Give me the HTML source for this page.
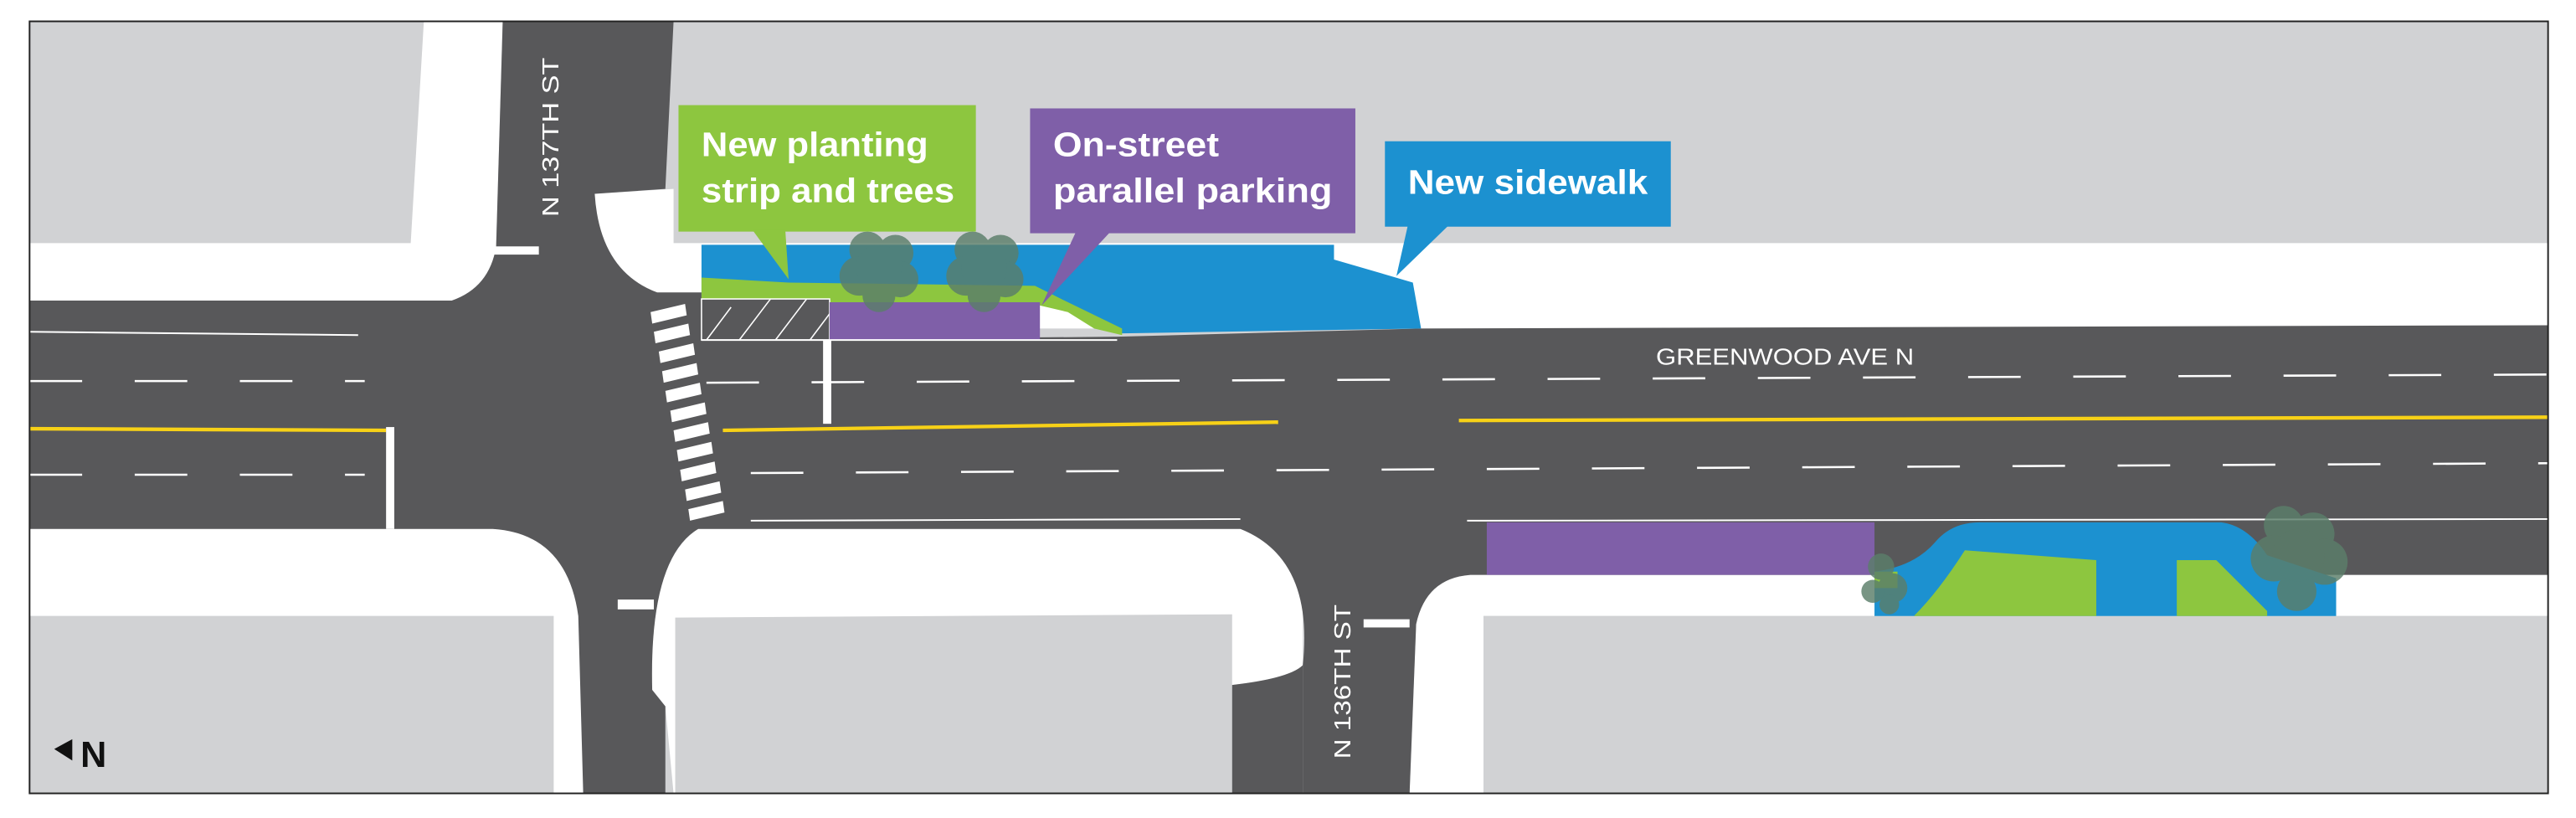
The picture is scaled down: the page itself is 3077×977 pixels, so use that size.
<!DOCTYPE html>
<html><head><meta charset="utf-8"><style>
html,body{margin:0;padding:0;background:#fff;}
svg{display:block;}
.lbl{font-family:"Liberation Sans Narrow","Liberation Sans",sans-serif;font-weight:bold;fill:#fff;font-size:21px;}
.st{font-family:"Liberation Sans Narrow","Liberation Sans",sans-serif;fill:#fff;font-size:14px;}
</style></head><body>
<svg width="3077" height="977" viewBox="0 0 1568 498" preserveAspectRatio="none" xmlns="http://www.w3.org/2000/svg">
<rect x="0" y="0" width="1568" height="498" fill="#fff"/>
<rect x="18" y="13" width="1533" height="470" fill="#d1d2d4"/>
<!-- top-left white sidewalk -->
<path d="M18 148 L250 148 L258 13 L306 13 L302 150 Q298 175 275 183 L18 183 Z" fill="#fff"/>
<!-- top right white sidewalk -->
<rect x="400" y="148" width="1151" height="52" fill="#fff"/>
<!-- white corner near N137 top -->
<path d="M360 118 L410 115 L410 150 L427 150 L427 178 L400 178 Q372 170 362 140 Z" fill="#fff"/>
<!-- bottom white areas -->
<path d="M18 322 L300 322 Q345 325 352 375 L355 483 L337 483 L337 375 L18 375 Z" fill="#fff"/>
<path d="M18 322 L300 322 Q350 322 355 380 L355 483 L337 483 L337 375 L18 375 Z" fill="#fff"/>
<path d="M425 322 L755 322 Q783 330 793 360 L793 405 Q785 413 750 417 L750 483 L410 483 L405 430 L397 420 Q395 340 425 322 Z" fill="#fff"/>
<path d="M858 483 L862 380 Q868 352 895 350 L1551 350 L1551 375 L903 375 L903 483 Z" fill="#fff"/>
<!-- gray blocks bottom -->
<rect x="18" y="375" width="319" height="108" fill="#d1d2d4"/>
<path d="M411 376 L750 374 L750 483 L411 483 Z" fill="#d1d2d4"/>
<rect x="903" y="375" width="648" height="108" fill="#d1d2d4"/>
<!-- roads -->
<path d="M18 183 L275 183 Q298 175 302 150 L306 13 L410 13 L405 115 L362 118 Q365 165 400 178 L427 178 L427 207 L680 205 L865 200 L1551 198 L1551 350 L895 350 Q868 352 862 380 L858 483 L793 483 L793 405 Q800 340 755 322 L425 322 Q395 340 397 420 L405 430 L405 483 L355 483 L352 375 Q345 325 300 322 L18 322 Z" fill="#58585a"/>
<path d="M750 417 Q785 413 793 405 L793 483 L750 483 Z" fill="#58585a"/>
<!-- blue new sidewalk -->
<path d="M427 149 L812 149 L812 158 L860 172 L865 200 L680 203 L660 190 L633 184 L427 180 Z" fill="#1c91d0"/>
<!-- green strip -->
<path d="M427 169 L480 172 L630 174 L648 183 L683 200 L683 204 L666 200 L650 190 L633 186 L505 185 L427 182 Z" fill="#8dc63f"/>
<!-- hatched -->
<rect x="427" y="182" width="78" height="25" fill="#58585a" stroke="#fff" stroke-width="0.8"/>
<g stroke="#fff" stroke-width="0.8">
<line x1="430" y1="207" x2="445" y2="187"/><line x1="450" y1="207" x2="469" y2="182"/><line x1="472" y1="207" x2="491" y2="182"/><line x1="493" y1="207" x2="505" y2="191"/>
</g>
<rect x="505" y="184" width="128" height="23" fill="#7f5fa8"/>
<!-- lines -->
<g stroke="#fff" stroke-width="1" fill="none">
<line x1="18" y1="202" x2="218" y2="204"/>
<line x1="427" y1="207" x2="680" y2="207"/>
<line x1="457" y1="317" x2="755" y2="316"/>
<line x1="893" y1="317" x2="1551" y2="316"/>
</g>
<g stroke="#fff" stroke-width="1.3" fill="none" stroke-dasharray="32,32">
<line x1="18" y1="232" x2="222" y2="232"/>
<line x1="430" y1="233" x2="1551" y2="228" stroke-dashoffset="0"/>
<line x1="18" y1="289" x2="222" y2="289"/>
<line x1="457" y1="288" x2="1551" y2="282"/>
</g>
<g stroke="#f7d117" stroke-width="2.2">
<line x1="18" y1="261" x2="235" y2="262"/>
<line x1="440" y1="262" x2="778" y2="257"/>
<line x1="888" y1="256" x2="1551" y2="254"/>
</g>
<rect x="235" y="260" width="5" height="62" fill="#fff"/>
<rect x="501" y="207" width="5" height="51" fill="#fff"/>
<!-- crosswalk -->
<g fill="#fff">
<polygon points="396,190 417,185 418,192 397,197"/>
<polygon points="398,202 419,197 420,204 399,209"/>
<polygon points="401,214 422,209 423,216 402,221"/>
<polygon points="403,226 424,221 425,228 404,233"/>
<polygon points="405,238 426,233 427,240 406,245"/>
<polygon points="408,250 429,245 430,252 409,257"/>
<polygon points="410,262 431,257 432,264 411,269"/>
<polygon points="412,274 433,269 434,276 413,281"/>
<polygon points="414,286 435,281 436,288 415,293"/>
<polygon points="417,298 438,293 439,300 418,305"/>
<polygon points="419,310 440,305 441,312 420,317"/>
</g>
<!-- bottom right -->
<rect x="905" y="318" width="236" height="32" fill="#7f5fa8"/>
<path d="M1141 375 L1141 348 Q1165 345 1178 330 Q1188 318 1205 318 L1352 318 Q1368 320 1380 338 L1422 352 L1422 375 Z" fill="#1c91d0"/>
<path d="M1165 375 Q1180 360 1196 335 L1276 341 L1276 375 Z" fill="#8dc63f"/>
<path d="M1325 341 L1349 341 L1380 372 L1380 375 L1325 375 Z" fill="#8dc63f"/>
<rect x="1141" y="348" width="14" height="10" fill="#8dc63f"/>
<rect x="830" y="377" width="28" height="5" fill="#fff"/>
<rect x="298" y="150" width="30" height="5" fill="#fff"/>
<rect x="376" y="365" width="22" height="6" fill="#fff"/>
<!-- trees -->
<g fill="#5b7e6a" opacity="0.82">
<circle cx="528" cy="152" r="11"/><circle cx="545" cy="154" r="11"/><circle cx="523" cy="168" r="12"/><circle cx="548" cy="170" r="11"/><circle cx="535" cy="180" r="10"/><circle cx="535" cy="163" r="14"/>
<circle cx="592" cy="152" r="11"/><circle cx="609" cy="154" r="11"/><circle cx="588" cy="168" r="12"/><circle cx="612" cy="170" r="11"/><circle cx="599" cy="180" r="10"/><circle cx="599" cy="163" r="14"/>
<circle cx="1145" cy="345" r="8"/><circle cx="1152" cy="358" r="9"/><circle cx="1140" cy="360" r="7"/><circle cx="1150" cy="368" r="6"/>
<circle cx="1390" cy="320" r="12"/><circle cx="1408" cy="325" r="13"/><circle cx="1384" cy="340" r="14"/><circle cx="1415" cy="342" r="14"/><circle cx="1398" cy="360" r="12"/><circle cx="1399" cy="338" r="16"/>
</g>
<!-- callouts -->
<rect x="413" y="64" width="181" height="77" fill="#8dc63f"/>
<polygon points="458,140 478,140 480,170" fill="#8dc63f"/>
<text class="lbl" x="427" y="95" textLength="138" lengthAdjust="spacingAndGlyphs">New planting</text>
<text class="lbl" x="427" y="123" textLength="154" lengthAdjust="spacingAndGlyphs">strip and trees</text>
<rect x="627" y="66" width="198" height="76" fill="#7f5fa8"/>
<polygon points="655,141 676,141 634,186" fill="#7f5fa8"/>
<text class="lbl" x="641" y="95" textLength="101" lengthAdjust="spacingAndGlyphs">On-street</text>
<text class="lbl" x="641" y="123" textLength="170" lengthAdjust="spacingAndGlyphs">parallel parking</text>
<rect x="843" y="86" width="174" height="52" fill="#1c91d0"/>
<polygon points="857,137 882,137 850,168" fill="#1c91d0"/>
<text class="lbl" x="857" y="118" textLength="146" lengthAdjust="spacingAndGlyphs">New sidewalk</text>
<!-- street names -->
<text class="st" transform="translate(340,132) rotate(-90)" textLength="97" lengthAdjust="spacingAndGlyphs">N 137TH ST</text>
<text class="st" transform="translate(822,462) rotate(-90)" textLength="94" lengthAdjust="spacingAndGlyphs">N 136TH ST</text>
<text class="st" x="1008" y="222" textLength="157" lengthAdjust="spacingAndGlyphs">GREENWOOD AVE N</text>
<!-- north -->
<polygon points="33,456 44,450 44,463" fill="#111"/>
<text x="49" y="467" font-family="Liberation Sans Narrow, Liberation Sans, sans-serif" font-weight="bold" font-size="22" fill="#111">N</text>
<rect x="18" y="13" width="1533" height="470" fill="none" stroke="#222" stroke-width="1"/>
</svg>
</body></html>
